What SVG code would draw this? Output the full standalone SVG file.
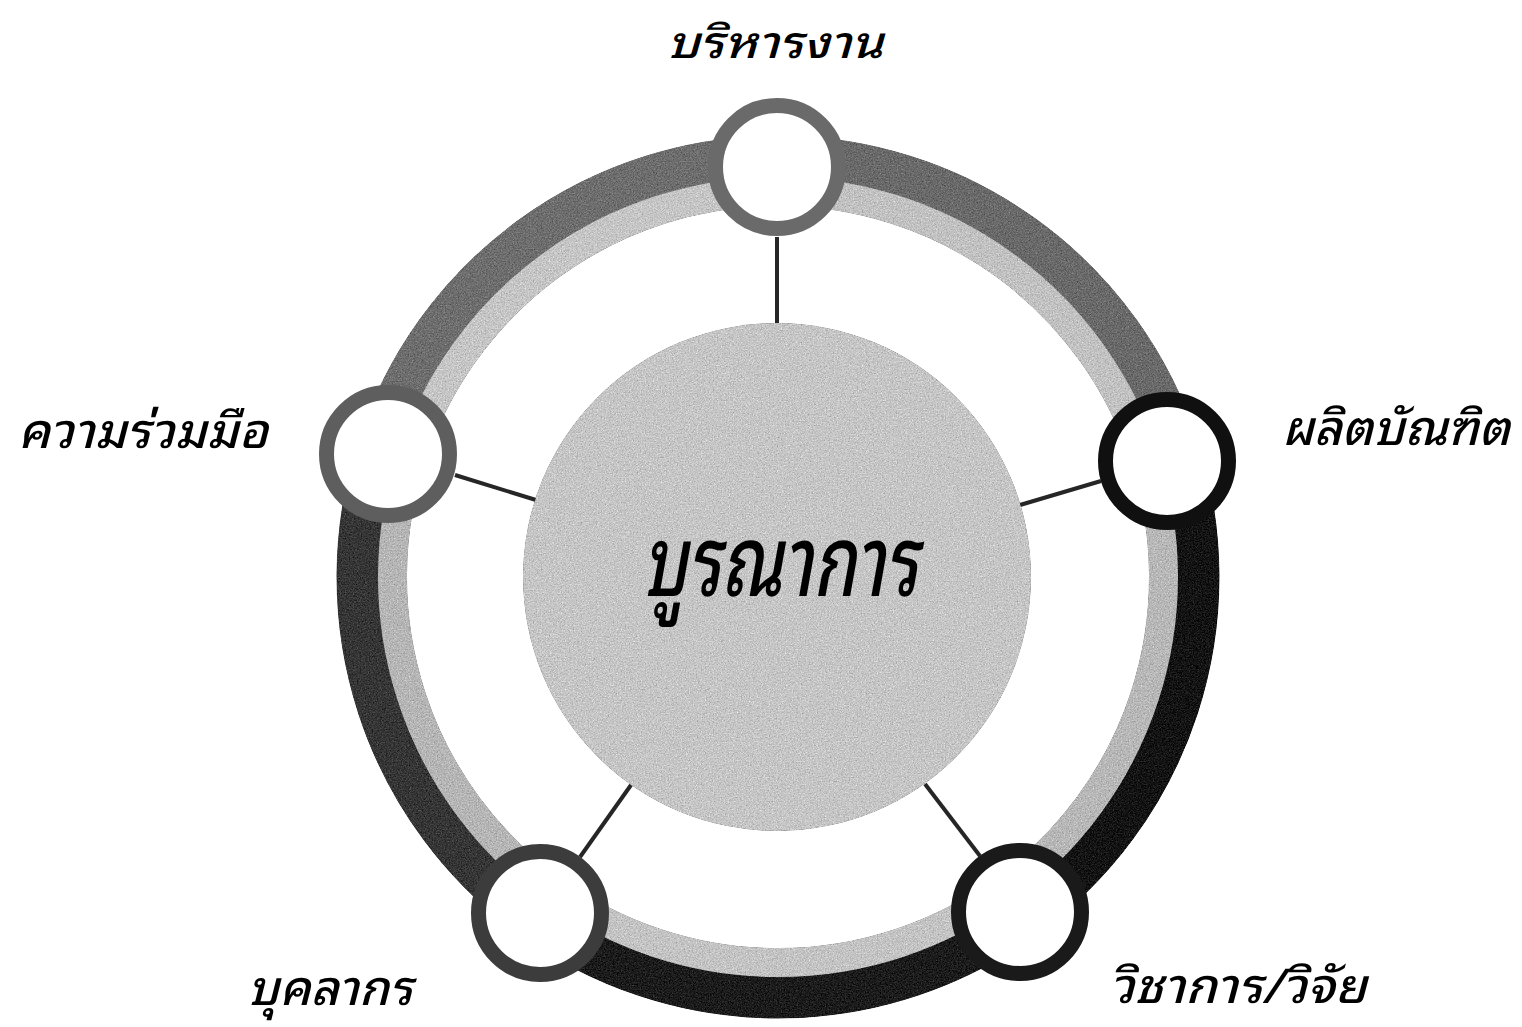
<svg xmlns="http://www.w3.org/2000/svg" width="1522" height="1027" viewBox="0 0 1522 1027">
  <style>
    .lbl { font-family: "Noto Sans Thai Looped", "Loma", "Garuda", "Waree", "Tlwg Typo", "Noto Sans Thai", "DejaVu Sans", sans-serif; font-style: italic; font-weight: 500; font-size: 48px; fill: #000; text-anchor: middle; }
    .top { font-size: 44px; }
    .big { font-size: 98px; font-weight: 500; }
    .node { fill: #ffffff; stroke-width: 15; }
    .spoke { stroke: #262626; stroke-width: 4; fill: none; }
    .ob { fill: none; stroke-width: 42; }
    .ib { fill: none; stroke-width: 29; }
  </style>
  <defs>
    <filter id="grain" color-interpolation-filters="sRGB">
      <feTurbulence type="fractalNoise" baseFrequency="0.75" numOctaves="2" seed="7" result="n"/>
      <feColorMatrix in="n" type="matrix" values="0.33 0.33 0.33 0 0  0.33 0.33 0.33 0 0  0.33 0.33 0.33 0 0  0 0 0 0 1" result="g"/>
      <feComposite in="SourceGraphic" in2="g" operator="arithmetic" k1="0" k2="1" k3="0.7" k4="-0.35" result="m"/>
      <feComposite in="m" in2="SourceGraphic" operator="in"/>
    </filter>
  </defs>
  <rect width="1522" height="1027" fill="#ffffff"/>

  <g id="ring" filter="url(#grain)">
    <!-- outer bands -->
    <path class="ob" stroke="#6e6e6e" d="M378.08 447.06 A420.5 420.5 0 0 1 778 156.5"/>
    <path class="ob" stroke="#6a6a6a" d="M778 156.5 A420.5 420.5 0 0 1 1177.92 447.06"/>
    <path class="ob" stroke="#141414" d="M1177.92 447.06 A420.5 420.5 0 0 1 1025.17 917.19"/>
    <path class="ob" stroke="#1c1c1c" d="M1025.17 917.19 A420.5 420.5 0 0 1 530.83 917.19"/>
    <path class="ob" stroke="#363636" d="M530.83 917.19 A420.5 420.5 0 0 1 378.08 447.06"/>
    <!-- inner bands -->
    <path class="ib" stroke="#c6c6c6" d="M411.37 457.87 A385.5 385.5 0 0 1 778 191.5"/>
    <path class="ib" stroke="#c2c2c2" d="M778 191.5 A385.5 385.5 0 0 1 1144.63 457.87"/>
    <path class="ib" stroke="#b8b8b8" d="M1144.63 457.87 A385.5 385.5 0 0 1 1004.59 888.88"/>
    <path class="ib" stroke="#c4c4c4" d="M1004.59 888.88 A385.5 385.5 0 0 1 551.41 888.88"/>
    <path class="ib" stroke="#b6b6b6" d="M551.41 888.88 A385.5 385.5 0 0 1 411.37 457.87"/>
  </g>

  <g id="connectors">
    <line class="spoke" x1="777" y1="237" x2="777" y2="325"/>
    <line class="spoke" x1="455" y1="475" x2="536" y2="500"/>
    <line class="spoke" x1="1101" y1="481" x2="1020" y2="505"/>
    <line class="spoke" x1="580" y1="857" x2="631" y2="785"/>
    <line class="spoke" x1="980" y1="856" x2="925" y2="784"/>
  </g>

  <g id="node-center">
    <circle cx="777" cy="577" r="254" fill="#c6c6c6" filter="url(#grain)"/>
    <text class="lbl big" x="780" y="596" textLength="276" lengthAdjust="spacingAndGlyphs">บูรณาการ</text>
  </g>

  <g id="node-top">
    <circle class="node" cx="777" cy="167" r="61.5" stroke="#6a6a6a"/>
    <text class="lbl top" x="775" y="58" textLength="216" lengthAdjust="spacingAndGlyphs">บริหารงาน</text>
  </g>
  <g id="node-left">
    <circle class="node" cx="388" cy="454" r="61.5" stroke="#5e5e5e"/>
    <text class="lbl" x="143" y="448" textLength="250" lengthAdjust="spacingAndGlyphs">ความร่วมมือ</text>
  </g>
  <g id="node-right">
    <circle class="node" cx="1167" cy="461" r="61.5" stroke="#101010"/>
    <text class="lbl" x="1396" y="445" textLength="228" lengthAdjust="spacingAndGlyphs">ผลิตบัณฑิต</text>
  </g>
  <g id="node-bottom-left">
    <circle class="node" cx="540" cy="913" r="61.5" stroke="#3c3c3c"/>
    <text class="lbl" x="330" y="1005" textLength="165" lengthAdjust="spacingAndGlyphs">บุคลากร</text>
  </g>
  <g id="node-bottom-right">
    <circle class="node" cx="1020" cy="912" r="61.5" stroke="#1a1a1a"/>
    <text class="lbl" x="1238" y="1003" textLength="257" lengthAdjust="spacingAndGlyphs">วิชาการ/วิจัย</text>
  </g>
</svg>
